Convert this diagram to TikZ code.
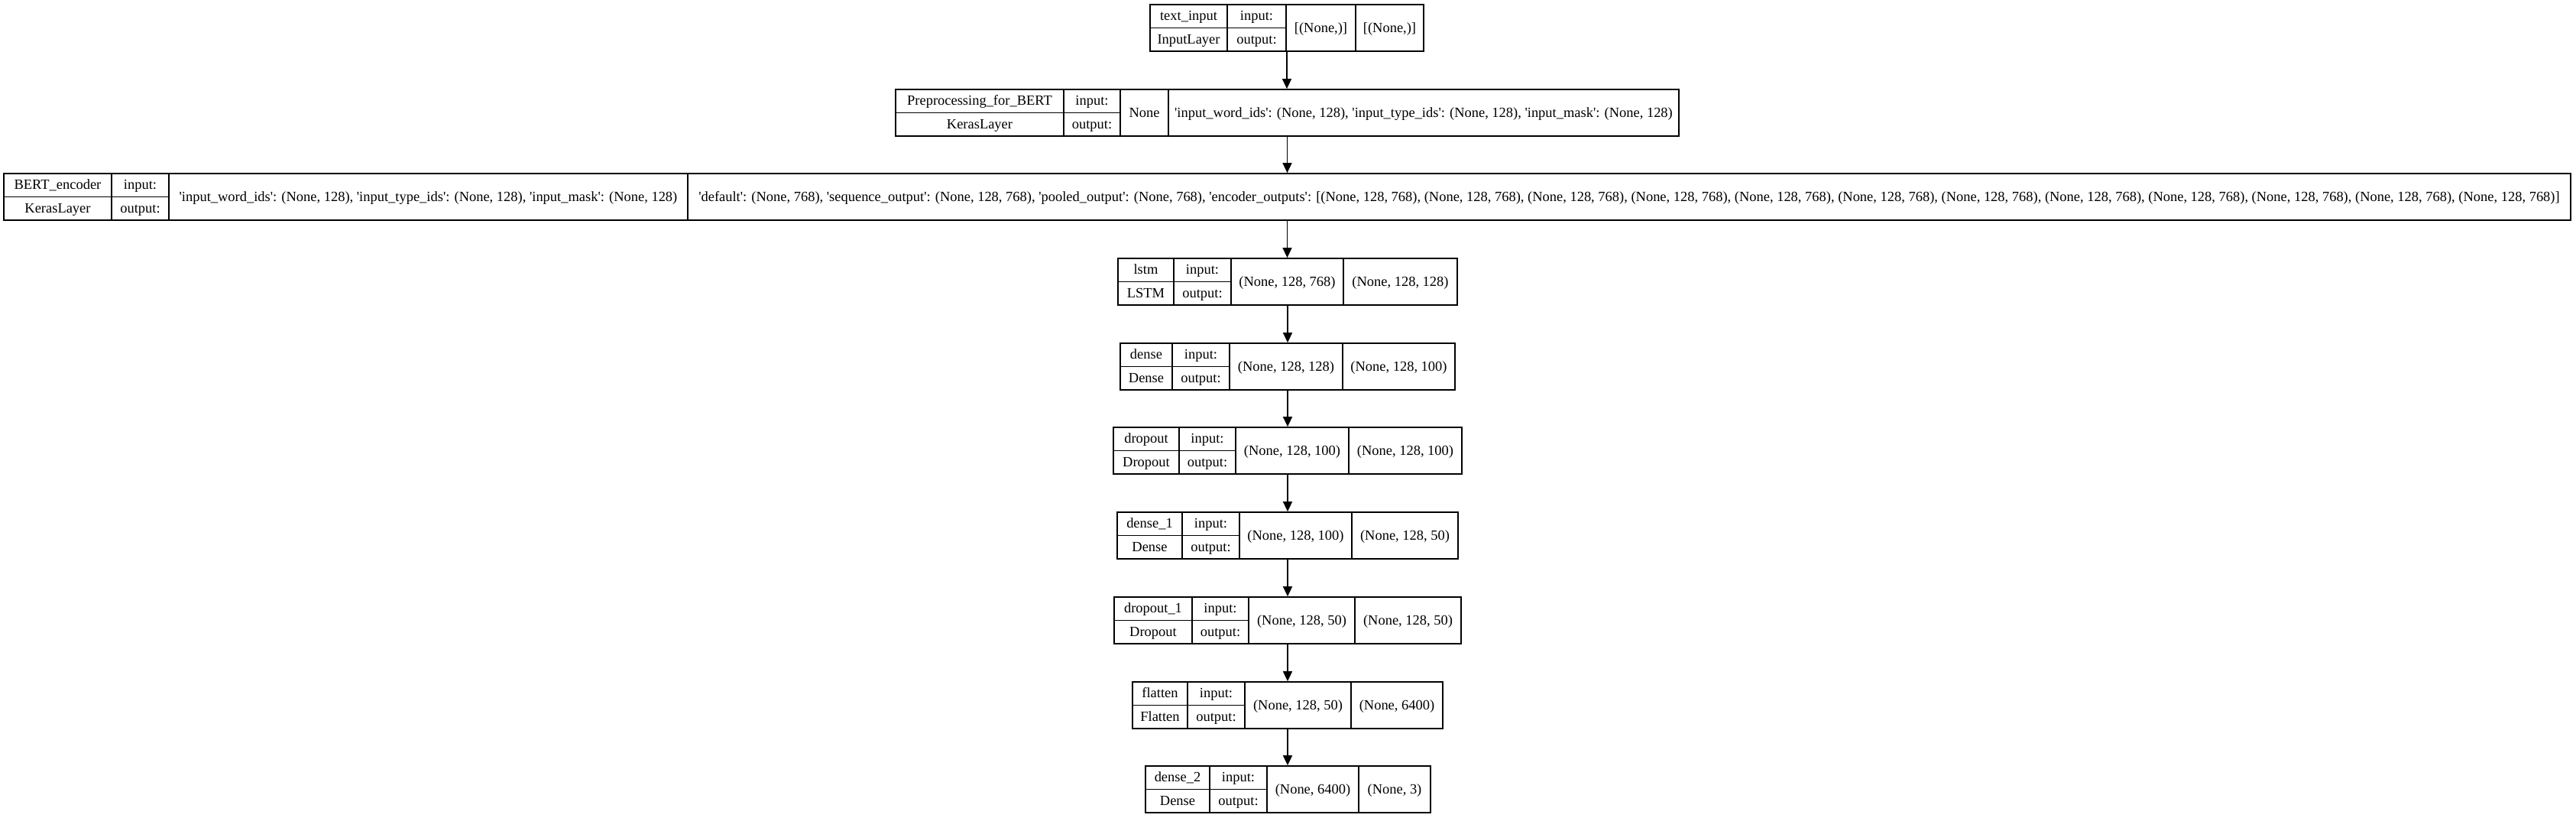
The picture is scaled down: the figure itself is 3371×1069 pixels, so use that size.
\documentclass[tikz,border=0pt]{standalone}
\usepackage{fontspec}
\newfontfamily\kerasfont{Liberation Serif}
\usetikzlibrary{arrows.meta, fit}

\begin{document}
\begin{tikzpicture}[x=0.01cm, y=-0.01cm, >={Triangle[length=3.7pt, width=3.4pt]},
  font=\kerasfont\fontsize{5.25pt}{6pt}\selectfont,
  cell/.style={inner sep=0pt, anchor=base},
  frame/.style={draw, line width=0.5pt, inner sep=0pt}]
  \useasboundingbox (0,0) rectangle (3371,1069);

  % one record per layer: name, top, column edges, texts
  \foreach \id/\yt/\xa/\xb/\xc/\xd/\xe/\nm/\cl/\shin/\shout in {
    tin/6/1505/1606/1683/1774/1863/{text\_input}/{InputLayer}/{[(None,)]}/{[(None,)]},
    prep/117/1172/1392/1466/1529/2197/{Preprocessing\_for\_BERT}/{KerasLayer}/{None}/{'input\_word\_ids': (None, 128), 'input\_type\_ids': (None, 128), 'input\_mask': (None, 128)},
    bert/227/5/146/221/900/3364/{BERT\_encoder}/{KerasLayer}/{'input\_word\_ids': (None, 128), 'input\_type\_ids': (None, 128), 'input\_mask': (None, 128)}/{'default': (None, 768), 'sequence\_output': (None, 128, 768), 'pooled\_output': (None, 768), 'encoder\_outputs': [(None, 128, 768), (None, 128, 768), (None, 128, 768), (None, 128, 768), (None, 128, 768), (None, 128, 768), (None, 128, 768), (None, 128, 768), (None, 128, 768), (None, 128, 768), (None, 128, 768), (None, 128, 768)]},
    lstm/338/1463/1536/1611/1758/1907/{lstm}/{LSTM}/{(None, 128, 768)}/{(None, 128, 128)},
    dense/449/1466/1534/1609/1757/1904/{dense}/{Dense}/{(None, 128, 128)}/{(None, 128, 100)},
    drop/559/1457/1543/1617/1765/1913/{dropout}/{Dropout}/{(None, 128, 100)}/{(None, 128, 100)},
    dense1/670/1462/1547/1622/1769/1908/{dense\_1}/{Dense}/{(None, 128, 100)}/{(None, 128, 50)},
    drop1/781/1458/1560/1634/1773/1912/{dropout\_1}/{Dropout}/{(None, 128, 50)}/{(None, 128, 50)},
    flat/892/1482/1554/1629/1768/1888/{flatten}/{Flatten}/{(None, 128, 50)}/{(None, 6400)},
    dense2/1002/1499/1583/1658/1778/1872/{dense\_2}/{Dense}/{(None, 6400)}/{(None, 3)}} {
    \pgfmathsetmacro\yb{\yt+61}
    \pgfmathsetmacro\ym{\yt+30.5}
    \node[frame, fit={(\xa,\yt) (\xe,\yb)}] (\id) {};
    \draw[line width=0.5pt] (\xb,\yt) -- (\xb,\yb) (\xc,\yt) -- (\xc,\yb)
      (\xd,\yt) -- (\xd,\yb) (\xa,\ym) -- (\xc,\ym);
    \node[cell] (\id-name) at ({(\xa+\xb)/2},{\yt+20}) {\nm};
    \node[cell] (\id-cls) at ({(\xa+\xb)/2},{\yt+51}) {\cl};
    \node[cell] (\id-inl) at ({(\xb+\xc)/2},{\yt+20}) {input:};
    \node[cell] (\id-outl) at ({(\xb+\xc)/2},{\yt+51}) {output:};
    \node[cell] (\id-in) at ({(\xc+\xd)/2},{\yt+36}) {\shin};
    \node[cell] (\id-out) at ({(\xd+\xe)/2},{\yt+36}) {\shout};
  }

  % edges
  \foreach \a/\b in {tin/prep, prep/bert, bert/lstm, lstm/dense, dense/drop,
    drop/dense1, dense1/drop1, drop1/flat, flat/dense2}
    \draw[->, line width=0.5pt] (\a.south) -- (\a.south |- \b.north);
\end{tikzpicture}
\end{document}
